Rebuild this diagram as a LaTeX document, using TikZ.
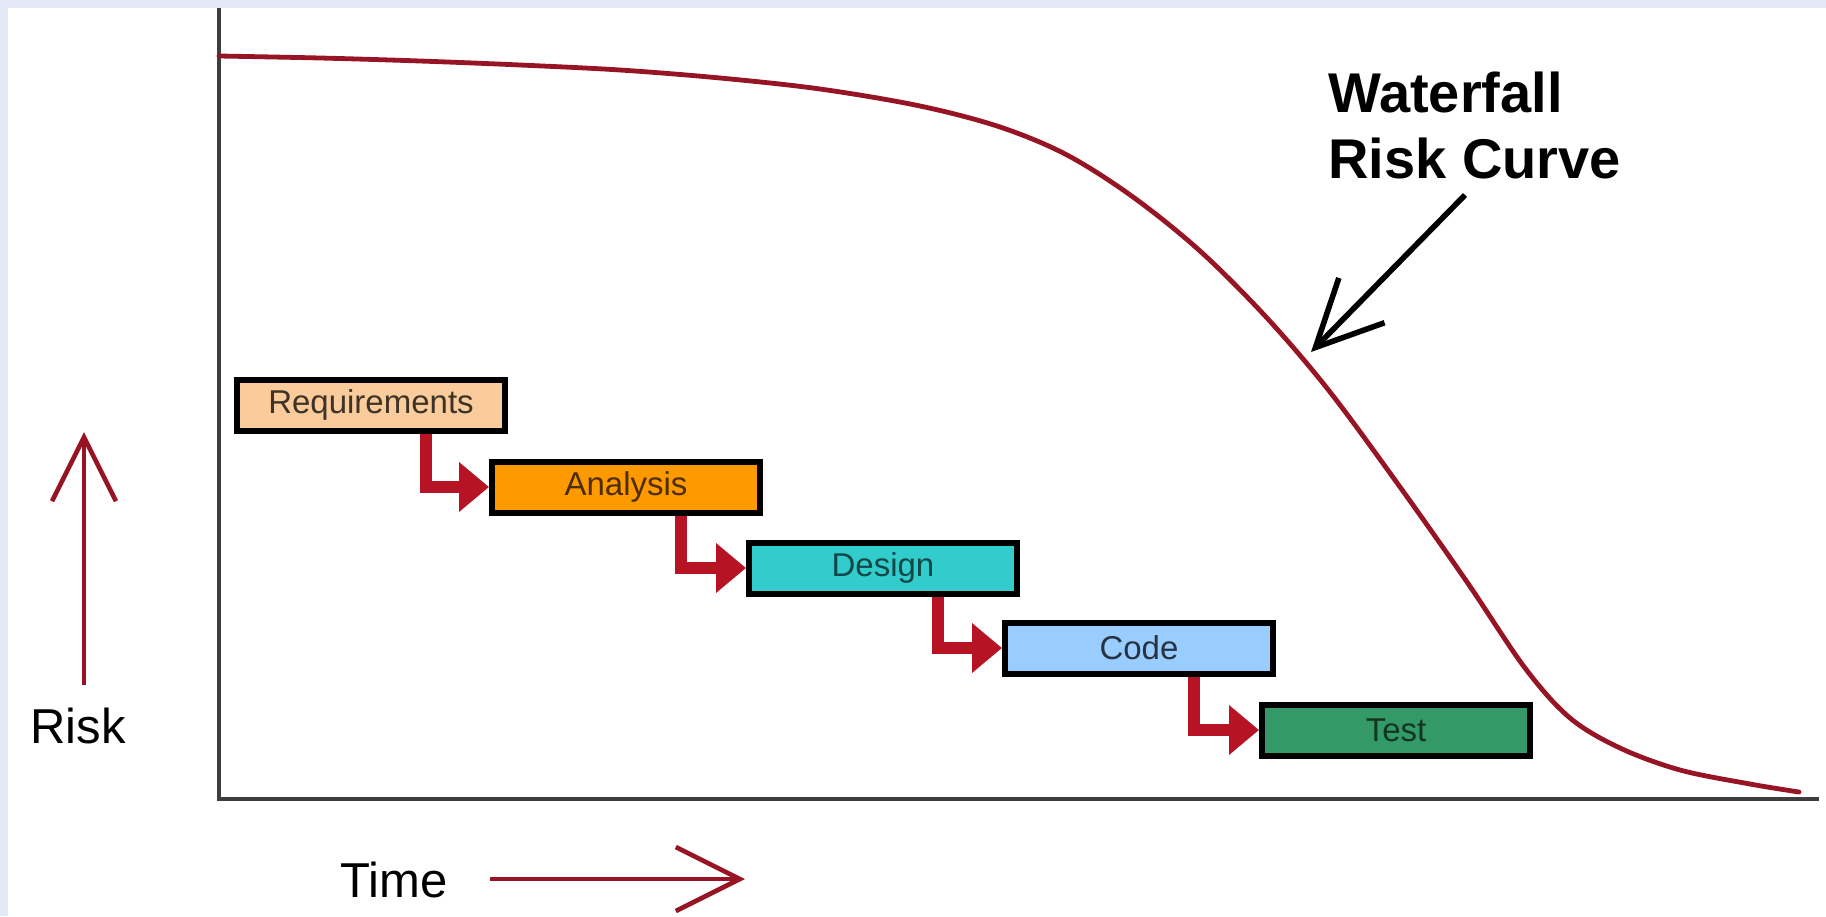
\documentclass[tikz,border=0pt]{standalone}
\usepackage{fontspec}
\setmainfont{Liberation Sans}
\usetikzlibrary{arrows.meta}
\definecolor{riskred}{RGB}{150,20,35}
\definecolor{flowred}{RGB}{182,20,36}
\definecolor{axisgray}{RGB}{62,62,62}
\definecolor{framebg}{RGB}{228,233,247}
\definecolor{reqfill}{RGB}{250,203,155}
\definecolor{anafill}{RGB}{255,153,0}
\definecolor{desfill}{RGB}{51,204,204}
\definecolor{codfill}{RGB}{153,204,255}
\definecolor{tstfill}{RGB}{51,153,102}

\begin{document}
\begin{tikzpicture}[x=0.5pt,y=-0.5pt]
\tikzstyle{every node}+=[inner sep=0pt]
\tikzstyle{phase}=[draw=black, line width=3pt, minimum width=134pt, minimum height=25.5pt, font=\fontsize{16.5}{19}\selectfont]
\tikzstyle{flow}=[flowred, line width=6pt, -{Triangle[length=15pt,width=24pt]}]
\tikzstyle{axisarrow}=[riskred, line width=2.3pt, -{Straight Barb[length=32pt,width=32pt]}]
\fill [framebg] (0,0) rectangle (1826,916);
\fill [white] (8,8) rectangle (1826,916);
% axes
\coordinate (ytop) at (219,8);
\coordinate (origin) at (219,799);
\coordinate (xend) at (1819,799);
\draw [axisgray, line width=1.7pt] (ytop) -- (origin) -- (xend);
% risk curve
\draw [riskred, line width=2.4pt, line cap=round] plot [smooth, tension=0.55] coordinates {(219,56) (320,58) (420,61) (520,65) (620,70) (720,78) (820,89) (920,106) (1000,127) (1067,155) (1133,197) (1200,251) (1267,318) (1330,392) (1400,487) (1467,582) (1525,668) (1570,718) (1620,748) (1680,770) (1750,784) (1799,792)};
% phases
\node [phase, fill=reqfill, text=reqfill!25!black] (requirements) at (371,405) {Requirements};
\node [phase, fill=anafill, text=anafill!30!black] (analysis) at (626,487) {Analysis};
\node [phase, fill=desfill, text=desfill!35!black] (design) at (883,568) {Design};
\node [phase, fill=codfill, text=codfill!25!black] (code) at (1139,648) {Code};
\node [phase, fill=tstfill, text=tstfill!35!black] (test) at (1396,730) {Test};
\draw [flow] ([xshift=27.5pt]requirements.south) |- (analysis.west);
\draw [flow] ([xshift=27.5pt]analysis.south) |- (design.west);
\draw [flow] ([xshift=27.5pt]design.south) |- (code.west);
\draw [flow] ([xshift=27.5pt]code.south) |- (test.west);
% labels
\node [anchor=north west, align=left, font=\fontsize{28}{33}\selectfont\bfseries] (curvenote) at (1328,72) {Waterfall\\Risk Curve};
\coordinate (notetail) at (1465,195);
\coordinate (notetip) at (1311,352);
\draw [black, line width=2.8pt, -{Straight Barb[length=33pt,width=32pt]}] (notetail) -- (notetip);
\node [anchor=base, font=\fontsize{24.5}{28}\selectfont] (risklabel) at (78,743) {Risk};
\coordinate (riskfoot) at (84,685);
\coordinate (risktip) at (84,432);
\draw [axisarrow] (riskfoot) -- (risktip);
\node [anchor=base, font=\fontsize{24.5}{28}\selectfont] (timelabel) at (394,897) {Time};
\coordinate (timefoot) at (490,879);
\coordinate (timetip) at (745,879);
\draw [axisarrow] (timefoot) -- (timetip);
\end{tikzpicture}
\end{document}
